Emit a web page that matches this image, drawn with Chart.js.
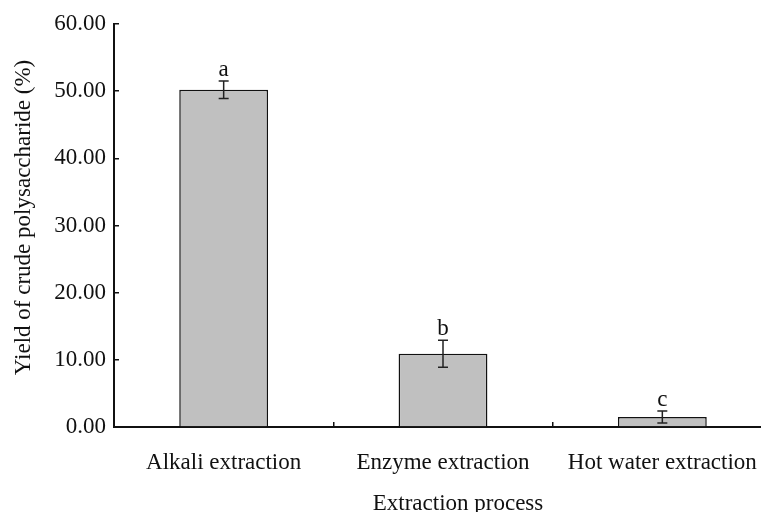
<!DOCTYPE html>
<html lang="en">
<head>
    <meta charset="UTF-8">
    <title>Yield of crude polysaccharide</title>
    <script src="https://cdn.jsdelivr.net/npm/chart.js@4.4.1/dist/chart.umd.min.js"></script>
    <style>
        html, body { margin: 0; padding: 0; background: #fff; overflow: hidden; }
        #wrap { width: 772px; height: 512px; }
    </style>
</head>
<body>
    <div id="wrap"><canvas id="chart" width="772" height="512"></canvas></div>

    <script>
        // data
        const categories = ['Alkali extraction', 'Enzyme extraction', 'Hot water extraction'];
        const yields = [50.2, 10.9, 1.5];
        const errors = [1.3, 2.0, 0.9];
        const letters = ['a', 'b', 'c'];
        const yTicks = [0, 10, 20, 30, 40, 50, 60];
        const xTitle = 'Extraction process';
        const yTitle = 'Yield of crude polysaccharide (%)';

        const serif = '"Liberation Serif", "Times New Roman", serif';
        const ink = '#111';

        // error bars, significance letters and axis titles
        const annotatePlugin = {
            id: 'annotate',
            afterDatasetsDraw(chart) {
                const ctx = chart.ctx;
                const meta = chart.getDatasetMeta(0);
                const y = chart.scales.y;
                ctx.save();
                ctx.strokeStyle = '#222';
                ctx.lineWidth = 1.5;
                ctx.fillStyle = ink;
                ctx.font = '23px ' + serif;
                ctx.textAlign = 'center';
                ctx.textBaseline = 'alphabetic';
                meta.data.forEach((bar, i) => {
                    const x = bar.x;
                    const top = y.getPixelForValue(yields[i] + errors[i]);
                    const bot = y.getPixelForValue(yields[i] - errors[i]);
                    ctx.beginPath();
                    ctx.moveTo(x, top); ctx.lineTo(x, bot);
                    ctx.moveTo(x - 5, top); ctx.lineTo(x + 5, top);
                    ctx.moveTo(x - 5, bot); ctx.lineTo(x + 5, bot);
                    ctx.stroke();
                    ctx.fillText(letters[i], x, top - 5);
                });
                ctx.restore();
            },
            afterDraw(chart) {
                const ctx = chart.ctx;
                const area = chart.chartArea;
                ctx.save();
                ctx.fillStyle = ink;
                ctx.font = '23px ' + serif;
                ctx.textAlign = 'center';
                ctx.textBaseline = 'middle';
                ctx.fillText(xTitle, chart.scales.x.getPixelForValue(1) + 15, 504);
                ctx.translate(24, (area.top + area.bottom) / 2 - 8);
                ctx.rotate(-Math.PI / 2);
                ctx.fillText(yTitle, 0, 0);
                ctx.restore();
            }
        };

        new Chart(document.getElementById('chart'), {
            type: 'bar',
            data: {
                labels: categories,
                datasets: [{
                    data: yields,
                    backgroundColor: '#c0c0c0',
                    borderColor: ink,
                    borderWidth: 1.5,
                    categoryPercentage: 1,
                    barPercentage: 0.405
                }]
            },
            options: {
                responsive: false,
                animation: false,
                layout: { padding: { top: 24, right: 0, bottom: 0, left: 0 } },
                plugins: { legend: { display: false }, tooltip: { enabled: false } },
                scales: {
                    x: {
                        afterFit(scale) {
                            scale.height = 85;
                            scale.paddingLeft = 0;
                            scale.paddingRight = 0;
                        },
                        border: { display: true, color: ink, width: 2 },
                        grid: { offset: true, drawOnChartArea: false, tickLength: -5, color: ink, lineWidth: 1.5 },
                        ticks: { color: ink, padding: 27, maxRotation: 0, font: { family: serif, size: 23 } }
                    },
                    y: {
                        min: 0,
                        max: 60,
                        afterFit(scale) {
                            scale.width = 114;
                            scale.paddingTop = 0;
                            scale.paddingBottom = 0;
                        },
                        afterBuildTicks(scale) { scale.ticks = yTicks.map(v => ({ value: v })); },
                        border: { display: true, color: ink, width: 2 },
                        grid: { drawOnChartArea: false, tickLength: -5, color: ink, lineWidth: 1.5 },
                        ticks: { color: ink, padding: 13, callback: v => v.toFixed(2), font: { family: serif, size: 23 } }
                    }
                }
            },
            plugins: [annotatePlugin]
        });
    </script>
</body>
</html>
